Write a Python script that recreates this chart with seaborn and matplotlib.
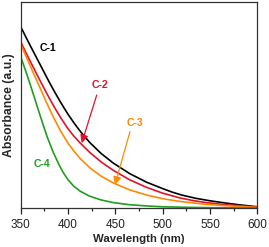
import numpy as np
import pandas as pd
import matplotlib
matplotlib.use("Agg")
import matplotlib.pyplot as plt
import seaborn as sns

# absorbance spectra (normalised, axis top = 1)
wl_c1 = [350, 355, 360, 365, 370, 375, 380, 386, 392, 400, 406, 413, 423, 435, 448, 465, 483, 500, 510, 520, 535, 550, 565, 580, 590, 600]
ab_c1 = [0.879, 0.833, 0.788, 0.744, 0.700, 0.656, 0.612, 0.562, 0.514, 0.455, 0.415, 0.372, 0.318, 0.265, 0.218, 0.168, 0.126, 0.095, 0.078, 0.064, 0.048, 0.036, 0.026, 0.017, 0.012, 0.007]

wl_c2 = [350, 355, 360, 365, 370, 375, 380, 386, 392, 400, 406, 413, 423, 435, 448, 465, 483, 500, 518, 530, 543, 560, 578, 590, 600]
ab_c2 = [0.806, 0.758, 0.712, 0.667, 0.622, 0.578, 0.535, 0.486, 0.440, 0.385, 0.350, 0.315, 0.270, 0.224, 0.183, 0.138, 0.101, 0.073, 0.050, 0.039, 0.029, 0.020, 0.013, 0.009, 0.005]

wl_c3 = [350, 355, 360, 365, 370, 375, 380, 386, 392, 400, 406, 413, 423, 435, 448, 465, 483, 500, 518, 543, 560, 578, 590, 600]
ab_c3 = [0.795, 0.742, 0.690, 0.638, 0.587, 0.535, 0.485, 0.428, 0.375, 0.315, 0.278, 0.240, 0.196, 0.155, 0.122, 0.089, 0.064, 0.046, 0.033, 0.020, 0.014, 0.009, 0.006, 0.004]

wl_c4 = [350, 355, 360, 365, 370, 374, 378, 384, 390, 395, 400, 406, 413, 423, 435, 448, 465, 483, 500, 530, 560, 600]
ab_c4 = [0.734, 0.668, 0.600, 0.528, 0.456, 0.400, 0.345, 0.275, 0.215, 0.172, 0.138, 0.107, 0.082, 0.058, 0.040, 0.027, 0.017, 0.011, 0.007, 0.004, 0.002, 0.001]

names = ["C-1", "C-2", "C-3", "C-4"]
colors = ["#000000", "#e3122a", "#ff8a00", "#1f9e1f"]

df = pd.concat([
    pd.DataFrame({"wl": w, "ab": a, "sample": n})
    for w, a, n in zip([wl_c1, wl_c2, wl_c3, wl_c4], [ab_c1, ab_c2, ab_c3, ab_c4], names)
])

sns.set_style("ticks")
plt.rcParams["font.family"] = ["Liberation Sans", "DejaVu Sans"]

fig = plt.figure(figsize=(2.69, 2.47), dpi=100)
ax = fig.add_axes([0.077, 0.157, 0.8795, 0.836])

sns.lineplot(data=df, x="wl", y="ab", hue="sample", palette=colors,
             linewidth=1.2, legend=False, sort=True, ax=ax)

ax.set_xlim(350, 600)
ax.set_ylim(0, 1)
ax.set_xticks(np.arange(350, 601, 50))
ax.set_xticks(np.arange(375, 600, 50), minor=True)
ax.set_yticks([])
ax.tick_params(axis="x", which="major", direction="out", length=4, width=0.9,
               labelsize=8.5, pad=4, colors="#222222")
ax.tick_params(axis="x", which="minor", direction="out", length=2.5, width=0.9)
for s in ax.spines.values():
    s.set_color("#333333")
    s.set_linewidth(0.9)

ax.set_xlabel("Wavelength (nm)", fontsize=8.2, fontweight="bold", labelpad=2)
ax.set_ylabel("Absorbance (a.u.)", fontsize=8.8, fontweight="bold", labelpad=4)

# labels and arrows
ax.text(379, 0.774, "C-1", color=colors[0], fontsize=7.6, fontweight="bold", ha="center", va="center")
ax.text(434, 0.597, "C-2", color=colors[1], fontsize=7.6, fontweight="bold", ha="center", va="center")
ax.text(471, 0.414, "C-3", color=colors[2], fontsize=7.6, fontweight="bold", ha="center", va="center")
ax.text(373, 0.214, "C-4", color=colors[3], fontsize=7.6, fontweight="bold", ha="center", va="center")

ax.annotate("", xy=(414.5, 0.315), xytext=(430.3, 0.548),
            arrowprops=dict(arrowstyle="-|>", color=colors[1], lw=0.9,
                            mutation_scale=12, shrinkA=0, shrinkB=0))
ax.annotate("", xy=(449.6, 0.113), xytext=(465.5, 0.371),
            arrowprops=dict(arrowstyle="-|>", color=colors[2], lw=0.9,
                            mutation_scale=12, shrinkA=0, shrinkB=0))

fig.savefig("out.png", dpi=100)
